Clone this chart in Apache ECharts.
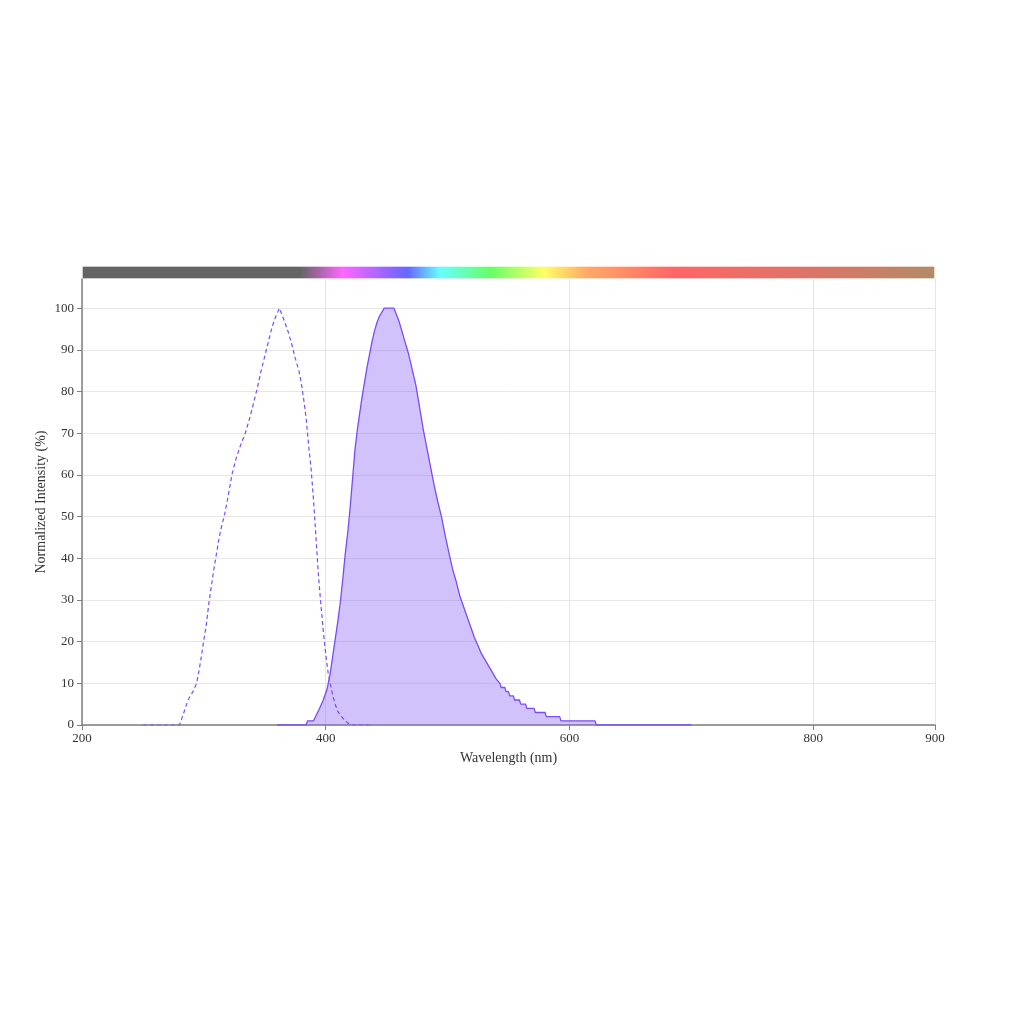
<!DOCTYPE html>
<html>
<head>
<meta charset="utf-8">
<script src="https://cdn.jsdelivr.net/npm/echarts@6/dist/echarts.min.js"></script>
<style>html,body{margin:0;padding:0;background:#fff}#c{width:1024px;height:1024px}</style>
</head>
<body>
<div id="c"></div>
<script>
// Excitation spectrum (dashed)
const excitation = [
  [250,0],[280,0],[283,2.5],[287,6],[291,8],[294,10],[296,13],[298,16.5],[300,20.5],[302,24],
  [304,29],[306,33],[308,37],[310,40.5],[312,44],[314,47],[317,50.5],[320,55],[323,60],[326,63.5],
  [330,67],[334,70],[338,74],[341,77.5],[344,81],[347,85],[350,88.5],[353,92],[356,95.5],[359,98],
  [362,100],[364,98.5],[366,97],[369,94.5],[372,91.5],[375,88],[378,85],[380,82],[382,78],[384,73.5],
  [386,67],[388,61.5],[390,54],[392,45],[394,36],[396,29],[398,22.5],[400,17],[402,12.5],[404,9.5],
  [406,6.8],[408,4.8],[410,3.2],[413,2],[416,1],[419,0.3],[421,0],[436,0]
];
// Emission spectrum (filled)
const emission = [
  [360,0],[384,0],[385,1],[390,1],[395,4],[398,6],[401,8.5],[403.5,12],[406,17],[408,21],
  [410,25],[412,29.5],[414,35],[416,41],[418,46],[420,52],[422,59],[424,66],[426,71],[428,75],
  [430,79],[432,82.5],[434,86],[436,89],[438,92],[440,94.5],[442,96.5],[444,98],[446,99],[448,100],
  [456,100],[458,98.5],[460,97],[462,95],[464,93],[466,91],[468,89],[470,86.5],[472,84],[474,81.5],
  [476,78],[478,74.5],[480,71],[483,66.5],[486,62],[489,57.5],[492,53.5],[495,50],[498,45.5],[501,41.5],
  [504,37.5],[507,34.5],[510,31],[513,28.5],[516,26],[519,23.5],[522,21],[525,19],[528,17],[531,15.5],
  [534,14],[537,12.5],[540,11],[543,10],[544,9],[547,9],[548,8],[550,8],[551,7],[554,7],
  [555,6],[559,6],[560,5],[564,5],[565,4],[571,4],[572,3],[580,3],[581,2],[592,2],
  [593,1],[621,1],[622,0],[700,0]
];
const yTicks = [0,10,20,30,40,50,60,70,80,90,100];
// Spectrum colour bar stops (wavelength nm, colour)
const spectrumStops = [
  [200,'#646464'],[379,'#646464'],[414,'#ff66ff'],[467,'#6666ff'],[494,'#66ffff'],
  [535,'#66ff66'],[579,'#ffff66'],[614,'#ffaa66'],[685,'#ff6666'],[800,'#dc7468'],[900,'#b38b66']
];
const X_MIN = 200, X_MAX = 900;

const chart = echarts.init(document.getElementById('c'));
const font = 'Liberation Serif, Times New Roman, serif';
chart.setOption({
  animation: false,
  backgroundColor: '#fff',
  grid: [
    {left: 82, right: 89, top: 279, bottom: 299},
    {left: 82, right: 89, top: 266, height: 13}
  ],
  xAxis: [
    {
      type: 'value', gridIndex: 0, min: X_MIN, max: X_MAX, interval: 200,
      name: 'Wavelength (nm)', nameLocation: 'middle', nameGap: 26,
      nameTextStyle: {fontFamily: font, fontSize: 14, color: '#333'},
      axisLine: {show: true, lineStyle: {color: '#7f7f7f', width: 1.5}},
      axisTick: {show: true, length: 5, lineStyle: {color: '#7f7f7f'}},
      axisLabel: {fontFamily: font, fontSize: 13, color: '#333', margin: 7},
      splitLine: {show: true, lineStyle: {color: '#e6e6e6'}}
    },
    {type: 'value', gridIndex: 1, min: 0, max: 1, show: false}
  ],
  yAxis: [
    {
      type: 'value', gridIndex: 0, min: 0, max: 107, interval: 10,
      name: 'Normalized Intensity (%)', nameLocation: 'middle', nameGap: 34,
      nameMoveOverlap: false,
      nameTextStyle: {fontFamily: font, fontSize: 14, color: '#333'},
      axisLine: {show: true, lineStyle: {color: '#7f7f7f', width: 1.5}},
      axisTick: {show: true, length: 5, lineStyle: {color: '#7f7f7f'}, customValues: yTicks},
      axisLabel: {fontFamily: font, fontSize: 13, color: '#333', margin: 8, customValues: yTicks},
      splitLine: {show: true, lineStyle: {color: '#e6e6e6'}}
    },
    {type: 'category', gridIndex: 1, data: ['s'], show: false}
  ],
  series: [
    {
      type: 'bar', xAxisIndex: 1, yAxisIndex: 1, data: [1], barWidth: '100%',
      silent: true,
      itemStyle: {
        borderColor: 'rgba(255,255,255,0.35)', borderWidth: 1,
        color: new echarts.graphic.LinearGradient(0, 0, 1, 0,
          spectrumStops.map(s => ({offset: (s[0] - X_MIN) / (X_MAX - X_MIN), color: s[1]})))
      }
    },
    {
      type: 'line', xAxisIndex: 0, yAxisIndex: 0, data: emission, showSymbol: false,
      lineStyle: {color: '#7a4cf5', width: 1.3},
      areaStyle: {color: 'rgba(125, 82, 245, 0.5)'},
      z: 3
    },
    {
      type: 'line', xAxisIndex: 0, yAxisIndex: 0, data: excitation, showSymbol: false,
      lineStyle: {color: '#7a4cf5', width: 1.2, type: [4, 3]},
      z: 4
    }
  ]
});
</script>
</body>
</html>
